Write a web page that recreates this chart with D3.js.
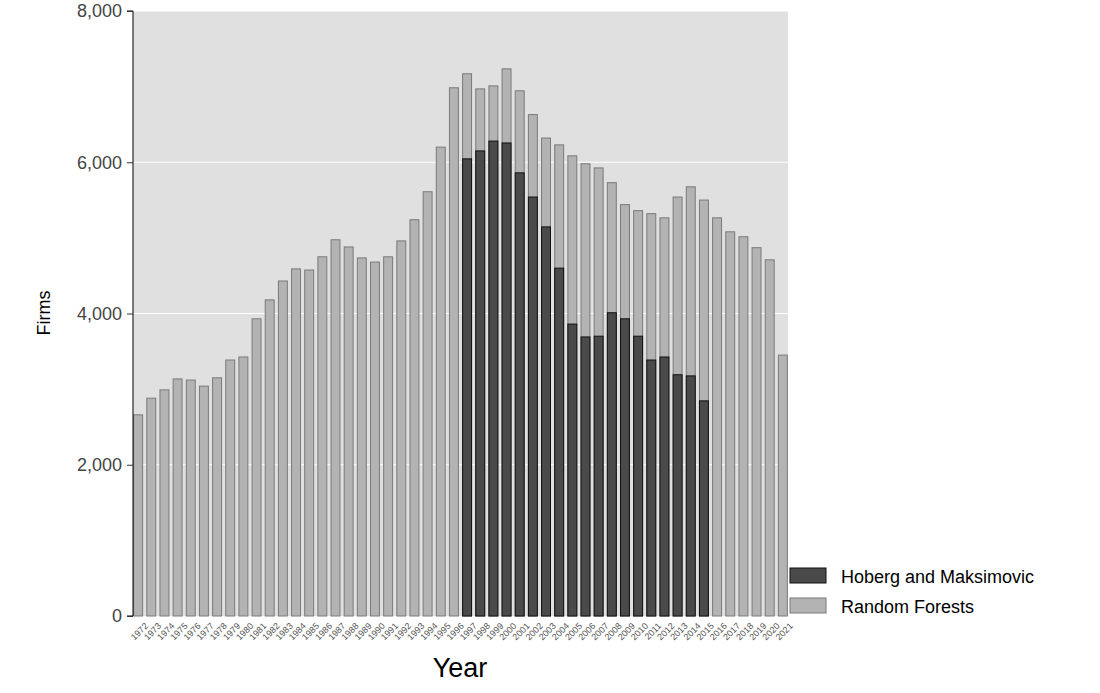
<!DOCTYPE html>
<html><head><meta charset="utf-8">
<script src="https://cdn.jsdelivr.net/npm/d3@7"></script>
<style>body{margin:0;background:#fff;font-family:"Liberation Sans",Arial,sans-serif}</style>
</head><body><svg id="c" width="1100" height="693"></svg>
<script>
const years = d3.range(1972, 2022);
const randomForests = [2660,2880,2990,3135,3120,3040,3150,3385,3425,3930,4180,4430,4590,4575,4750,4975,4880,4735,4680,4750,4960,5240,5610,6200,6985,7170,6970,7010,7235,6945,6630,6320,6230,6085,5980,5925,5730,5440,5360,5320,5265,5540,5675,5500,5265,5080,5015,4870,4710,3450];
const hmYears = d3.range(1997, 2016);
const hobergMaksimovic = [6045,6150,6280,6255,5860,5540,5145,4600,3860,3690,3700,4010,3930,3700,3385,3425,3190,3175,2845];
const yTicks = [0,2000,4000,6000,8000];

const svg = d3.select("#c");
const L=133,R=788,T=11,B=616;
svg.append("rect").attr("x",L).attr("y",T).attr("width",R-L).attr("height",B-T).attr("fill","#e0e0e0");
const x = d3.scaleBand().domain(years).range([L,R]).paddingInner(0.32).paddingOuter(0.05);
const y = d3.scaleLinear().domain([0,8000]).range([B,T]);
svg.append("g").selectAll("line").data(yTicks.slice(1)).join("line")
 .attr("x1",L).attr("x2",R).attr("y1",d=>y(d)).attr("y2",d=>y(d)).attr("stroke","#fff").attr("stroke-width",1.2);
svg.append("g").selectAll("rect").data(years).join("rect")
 .attr("x",d=>x(d)).attr("width",x.bandwidth()).attr("y",(d,i)=>y(randomForests[i])).attr("height",(d,i)=>B-y(randomForests[i]))
 .attr("fill","#b3b3b3").attr("stroke","#7a7a7a").attr("stroke-width",1);
svg.append("g").selectAll("rect").data(hmYears).join("rect")
 .attr("x",d=>x(d)).attr("width",x.bandwidth()).attr("y",(d,i)=>y(hobergMaksimovic[i])).attr("height",(d,i)=>B-y(hobergMaksimovic[i]))
 .attr("fill","#4a4a4a").attr("stroke","#111").attr("stroke-width",1);
const ya = svg.append("g").attr("transform",`translate(${L},0)`)
 .call(d3.axisLeft(y).tickValues(yTicks).tickFormat(d3.format(",")).tickSize(6).tickPadding(5));
ya.select(".domain").attr("stroke","#000").attr("d",`M-6,${B}H0V${T}H-6`);
ya.selectAll("text").attr("font-size",18).attr("fill","#444");
ya.selectAll(".tick line").attr("stroke","#333");
const xa = svg.append("g").attr("transform",`translate(0,${B})`).call(d3.axisBottom(x).tickSize(0));
xa.select(".domain").remove();
xa.selectAll("text").attr("font-size",9).attr("fill","#555").attr("text-anchor","end")
 .attr("transform","translate(4,4) rotate(-45)").attr("dy","0.7em");
svg.append("text").attr("x",460).attr("y",677).attr("text-anchor","middle").attr("font-size",27).text("Year");
svg.append("text").attr("transform","translate(50,313) rotate(-90)").attr("text-anchor","middle").attr("font-size",18).text("Firms");
const leg=[["Hoberg and Maksimovic","#4a4a4a","#111"],["Random Forests","#b3b3b3","#7a7a7a"]];
leg.forEach((l,i)=>{
 svg.append("rect").attr("x",790).attr("y",568+i*30).attr("width",36).attr("height",15).attr("fill",l[1]).attr("stroke",l[2]);
 svg.append("text").attr("x",841).attr("y",583+i*30).attr("font-size",18).text(l[0]);
});
</script></body></html>
